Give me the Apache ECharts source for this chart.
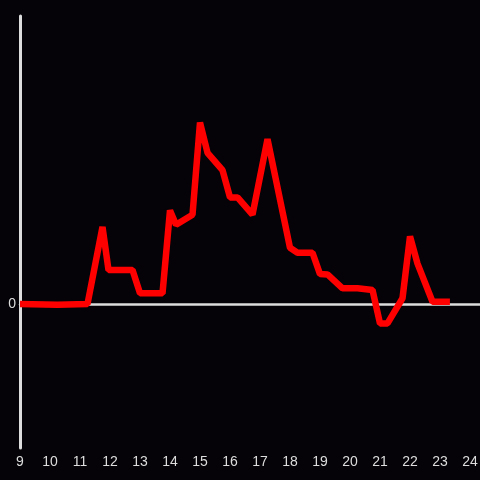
<!DOCTYPE html>
<html>
<head>
<meta charset="utf-8">
<script src="https://cdn.jsdelivr.net/npm/echarts@6/dist/echarts.min.js"></script>
<style>
  html, body {margin: 0; padding: 0; background: #050307;}
  #chart {width: 480px; height: 480px;}
</style>
</head>
<body>
<div id="chart"></div>
<script>
// hour of day (x) and value (y)
const hours = [9, 10.25, 11.25, 11.75, 11.95, 12.75, 13, 13.75, 14, 14.2, 14.75, 15, 15.25, 15.75, 16, 16.25, 16.75, 17.25, 18, 18.25, 18.75, 19, 19.25, 19.75, 20.25, 20.75, 21, 21.25, 21.75, 22, 22.25, 22.75, 23.33]
const values = [0, -0.005, 0, 0.535, 0.236, 0.236, 0.074, 0.074, 0.65, 0.55, 0.62, 1.26, 1.05, 0.93, 0.74, 0.74, 0.62, 1.145, 0.39, 0.356, 0.356, 0.208, 0.205, 0.109, 0.109, 0.097, -0.135, -0.135, 0.04, 0.47, 0.28, 0.016, 0.016]
const xTicks = [9, 10, 11, 12, 13, 14, 15, 16, 17, 18, 19, 20, 21, 22, 23, 24]
const yTicks = [0]

const points = hours.map((h, i) => [h, values[i]])
const axisColor = "#dddddd"

const myChart = echarts.init(document.getElementById("chart"))
myChart.setOption({
  backgroundColor: "#050307",
  animation: false,
  grid: {left: 20, right: 0, top: 16, bottom: 32, containLabel: false, outerBoundsMode: "none"},
  xAxis: [
    {
      // zero line
      type: "value", min: 9, max: 24.333, interval: 1, position: "top",
      axisLine: {onZero: true, lineStyle: {color: axisColor, width: 2.5}},
      axisTick: {show: false}, axisLabel: {show: false}, splitLine: {show: false}
    },
    {
      type: "value", min: 9, max: 24.333, interval: 1, position: "bottom",
      axisLine: {show: false, onZero: false},
      axisTick: {show: false}, splitLine: {show: false},
      axisLabel: {
        color: axisColor, fontSize: 14, margin: 7,
        formatter(v) { return xTicks.includes(v) ? String(v) : "" }
      }
    }
  ],
  yAxis: {
    type: "value", min: -1, max: 2, interval: 1,
    axisLine: {show: true, lineStyle: {color: axisColor, width: 3}},
    axisTick: {show: false}, splitLine: {show: false},
    axisLabel: {
      color: axisColor, fontSize: 14, margin: 4,
      formatter(v) { return yTicks.includes(v) ? String(v) : "" }
    }
  },
  series: [{
    type: "line",
    xAxisIndex: 0,
    data: points,
    showSymbol: false,
    lineStyle: {color: "#ff0000", width: 6.5, join: "bevel"},
    z: 5
  }]
})
</script>
</body>
</html>
